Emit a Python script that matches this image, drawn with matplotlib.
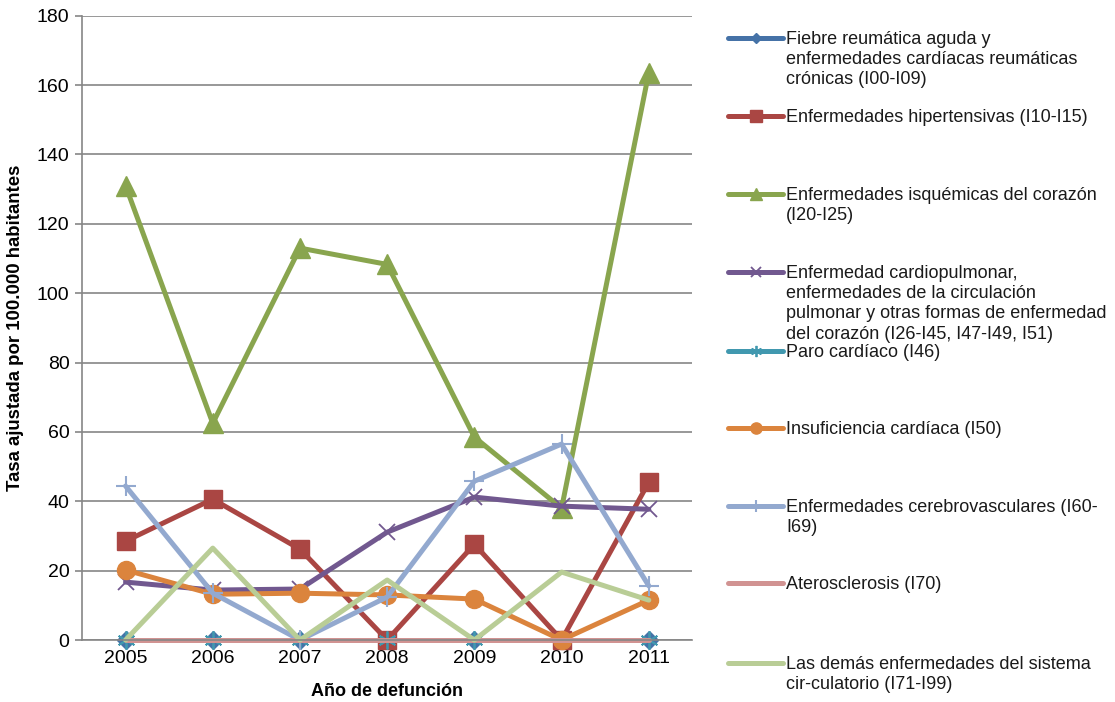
import matplotlib
matplotlib.use("Agg")
import matplotlib.pyplot as plt
from matplotlib.lines import Line2D

plt.rcParams['font.family'] = ['Liberation Sans', 'DejaVu Sans']

years = ['2005', '2006', '2007', '2008', '2009', '2010', '2011']

fiebre = [0, 0, 0, 0, 0, 0, 0]
hipertensivas = [28.5, 40.6, 26.2, 0, 27.6, 0, 45.5]
isquemicas = [131.0, 62.5, 113.0, 108.3, 58.5, 38.0, 163.6]
cardiopulmonar = [16.7, 14.4, 14.7, 31.1, 41.2, 38.6, 37.7]
paro = [0, 0, 0, 0, 0, 0, 0]
insuficiencia = [20.2, 13.2, 13.5, 13.0, 11.8, 0, 11.5]
cerebrovasculares = [44.4, 13.5, 0, 12.4, 45.8, 56.5, 15.6]
aterosclerosis = [0, 0, 0, 0, 0, 0, 0]
demas = [0, 26.5, 0, 17.3, 0, 19.6, 11.5]

labels = [
    "Fiebre reumática aguda y\nenfermedades cardíacas reumáticas\ncrónicas (I00-I09)",
    "Enfermedades hipertensivas (I10-I15)",
    "Enfermedades isquémicas del corazón\n(I20-I25)",
    "Enfermedad cardiopulmonar,\nenfermedades de la circulación\npulmonar y otras formas de enfermedad\ndel corazón (I26-I45, I47-I49, I51)",
    "Paro cardíaco (I46)",
    "Insuficiencia cardíaca (I50)",
    "Enfermedades cerebrovasculares (I60-\nI69)",
    "Aterosclerosis (I70)",
    "Las demás enfermedades del sistema\ncir-culatorio (I71-I99)",
]

series = [fiebre, hipertensivas, isquemicas, cardiopulmonar, paro,
          insuficiencia, cerebrovasculares, aterosclerosis, demas]

styles = [
    dict(color='#4572A7', marker='D', ms=9, mew=1),
    dict(color='#AA4643', marker='s', ms=13, mew=1),
    dict(color='#89A54E', marker='^', ms=14, mew=1),
    dict(color='#71588F', marker='x', ms=12, mew=1.3),
    dict(color='#4198AF', marker=(6, 2, 0), ms=13, mew=1.3),
    dict(color='#DB843D', marker='o', ms=13, mew=1),
    dict(color='#93A9CF', marker='+', ms=14, mew=1.5),
    dict(color='#D19392', marker='None', ms=0, mew=0),
    dict(color='#B9CD96', marker='None', ms=0, mew=0),
]

fig = plt.figure(figsize=(11.15, 7.02), dpi=100)
ax = fig.add_axes([0.0735, 0.0883, 0.5475, 0.8893])

x = list(range(len(years)))
for vals, st in zip(series, styles):
    ax.plot(x, vals, color=st['color'], lw=3.6, marker=st['marker'],
            ms=st['ms'], mew=st['mew'], mfc=st['color'], mec=st['color'],
            solid_capstyle='round', solid_joinstyle='round', clip_on=False)

ax.set_xlim(-0.5, len(years) - 0.5)
ax.set_ylim(0, 180)
ax.set_yticks(range(0, 181, 20))
ax.set_xticks(x)
ax.set_xticklabels(years)
ax.yaxis.grid(True, color='#868686', lw=1.2)
ax.set_axisbelow(True)
for side in ('top', 'right'):
    ax.spines[side].set_visible(False)
for side in ('left', 'bottom'):
    ax.spines[side].set_color('#868686')
    ax.spines[side].set_linewidth(1.2)
ax.tick_params(axis='y', length=5, width=1.2, color='#868686', labelsize=14, pad=4)
ax.tick_params(axis='x', length=0, labelsize=14, pad=7)
ax.set_ylabel('Tasa ajustada por 100.000 habitantes', fontsize=13.4,
              fontweight='bold', labelpad=9)
ax.set_xlabel('Año de defunción', fontsize=13, fontweight='bold', labelpad=12)

# legend drawn by hand, one row per series
W, H = 1115.0, 702.0
rows_y = [38, 116, 194, 272, 351, 428, 506, 583, 663]
for lab, st, ry in zip(labels, styles, rows_y):
    yf = 1 - ry / H
    ln = Line2D([728 / W, 783 / W], [yf, yf], transform=fig.transFigure,
                color=st['color'], lw=3.6, solid_capstyle='round')
    fig.add_artist(ln)
    if st['marker'] != 'None':
        mk = Line2D([755.5 / W], [yf], transform=fig.transFigure,
                    color=st['color'], marker=st['marker'],
                    ms=st['ms'] * 0.62, mew=st['mew'],
                    mfc=st['color'], mec=st['color'], lw=0)
        fig.add_artist(mk)
    fig.text(786 / W, 1 - (ry - 7) / H, lab, fontsize=13, va='top',
             ha='left', linespacing=1.25, color='#1a1a1a')

fig.savefig('out.png', dpi=100)
